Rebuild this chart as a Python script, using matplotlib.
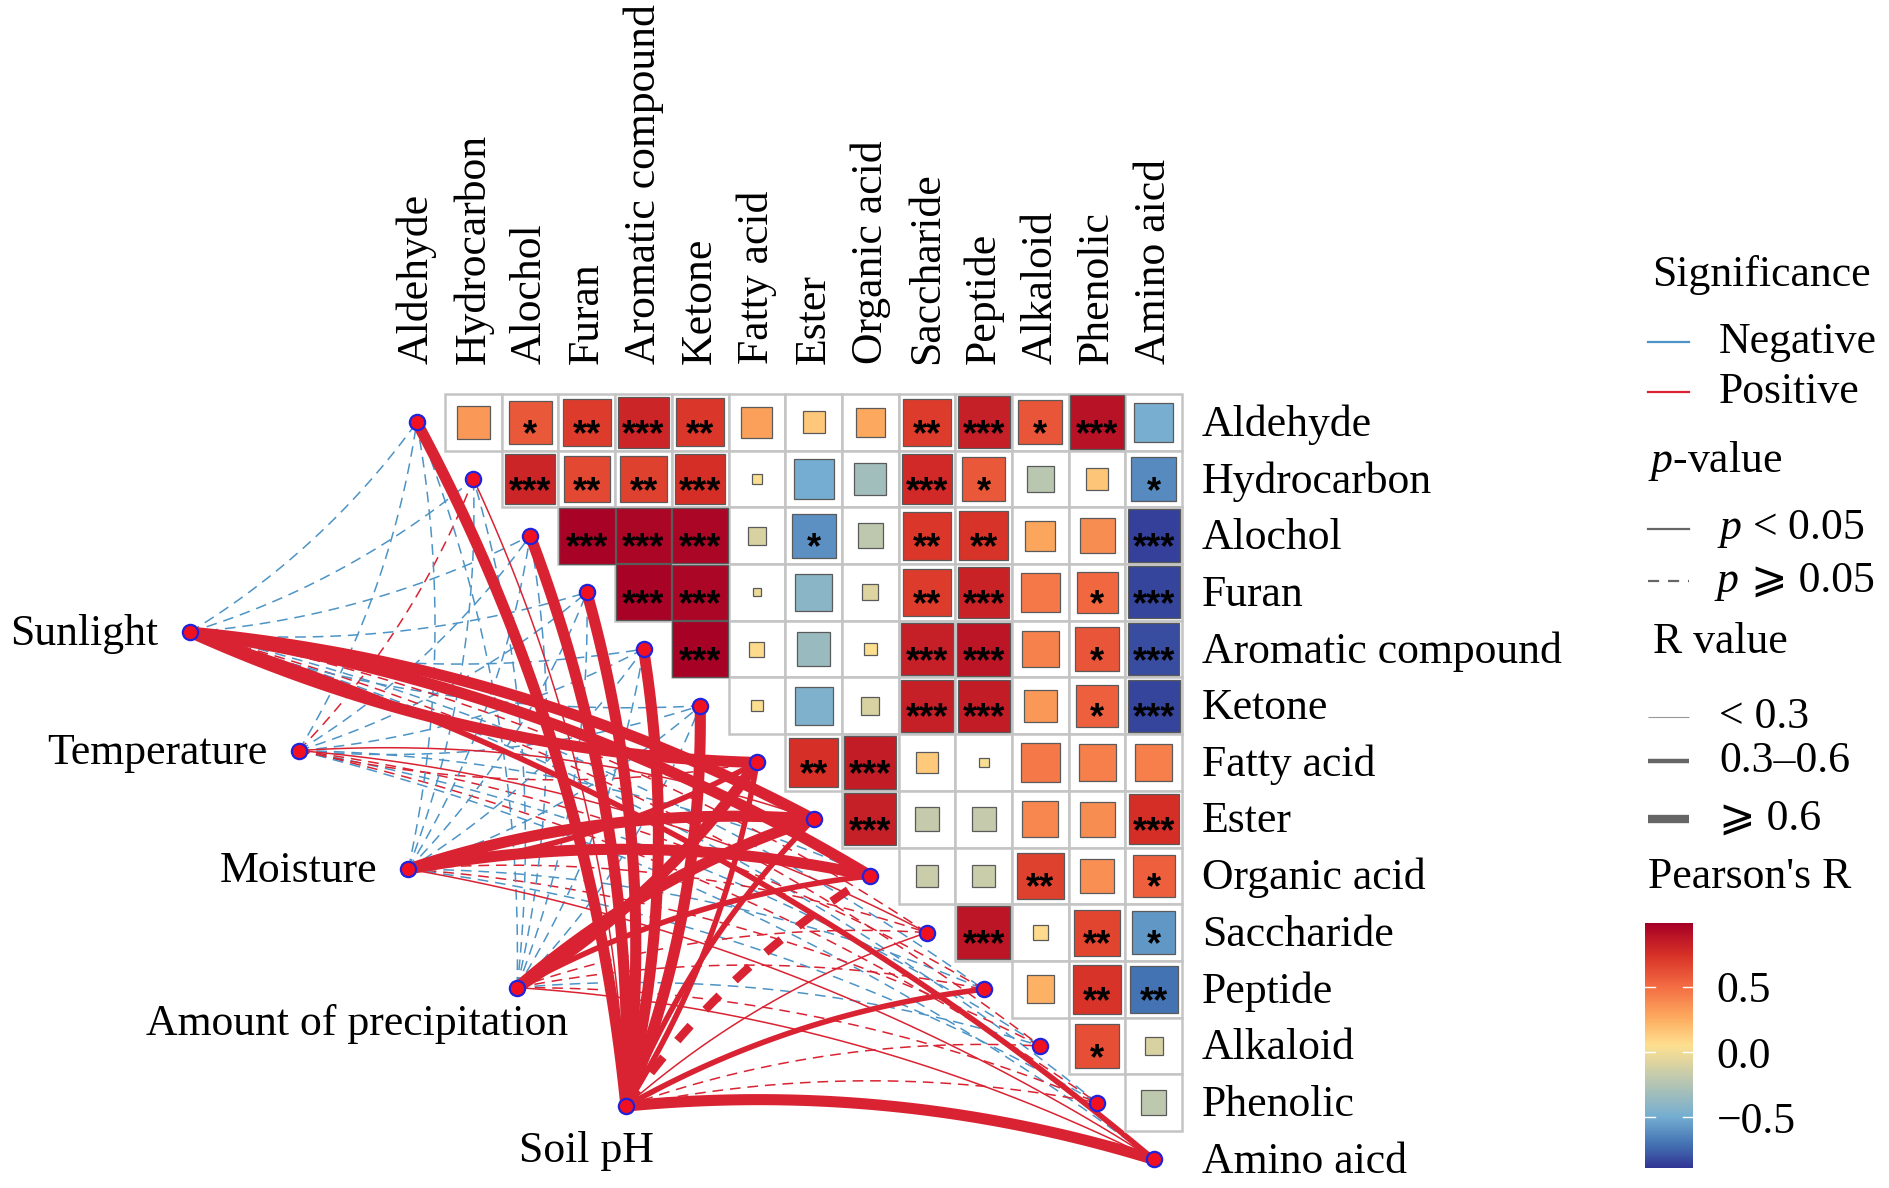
import numpy as np
import matplotlib
matplotlib.use('Agg')
import matplotlib.pyplot as plt
from matplotlib.colors import LinearSegmentedColormap, Normalize
from matplotlib.patches import Rectangle
from matplotlib.cm import ScalarMappable

plt.rcParams['font.family'] = ['Liberation Serif', 'DejaVu Sans']
plt.rcParams['mathtext.fontset'] = 'custom'
plt.rcParams['mathtext.it'] = 'Liberation Serif:italic'
plt.rcParams['mathtext.rm'] = 'Liberation Serif'

# ---- data ----
items = ['Aldehyde', 'Hydrocarbon', 'Alochol', 'Furan', 'Aromatic compound',
         'Ketone', 'Fatty acid', 'Ester', 'Organic acid', 'Saccharide',
         'Peptide', 'Alkaloid', 'Phenolic', 'Amino aicd']
env = ['Sunlight', 'Temperature', 'Moisture', 'Amount of precipitation', 'Soil pH']

# upper triangle of Pearson's R (row i, columns i+1 .. 13)
corr_r = [
    [0.33, 0.58, 0.70, 0.80, 0.72, 0.30, 0.15, 0.27, 0.70, 0.83, 0.60, 0.90, -0.48],
    [0.80, 0.65, 0.68, 0.76, 0.03, -0.50, -0.32, 0.78, 0.58, -0.22, 0.16, -0.62],
    [0.97, 0.96, 0.96, -0.10, -0.60, -0.20, 0.72, 0.74, 0.28, 0.38, -0.86],
    [0.97, 0.96, -0.02, -0.42, -0.08, 0.70, 0.82, 0.46, 0.52, -0.84],
    [0.98, 0.07, -0.35, 0.05, 0.83, 0.88, 0.42, 0.60, -0.82],
    [0.04, -0.45, -0.10, 0.83, 0.85, 0.33, 0.55, -0.84],
    [0.75, 0.85, 0.14, 0.03, 0.46, 0.43, 0.43],
    [0.83, -0.18, -0.18, 0.40, 0.38, 0.76],
    [-0.16, -0.16, 0.68, 0.37, 0.55],
    [0.88, 0.07, 0.66, -0.58],
    [0.24, 0.74, -0.70],
    [0.62, -0.10],
    [-0.20],
]
corr_sig = [
    ['', '*', '**', '***', '**', '', '', '', '**', '***', '*', '***', ''],
    ['***', '**', '**', '***', '', '', '', '***', '*', '', '', '*'],
    ['***', '***', '***', '', '*', '', '**', '**', '', '', '***'],
    ['***', '***', '', '', '', '**', '***', '', '*', '***'],
    ['***', '', '', '', '***', '***', '', '*', '***'],
    ['', '', '', '***', '***', '', '*', '***'],
    ['**', '***', '', '', '', '', ''],
    ['***', '', '', '', '', '***'],
    ['', '', '**', '', '*'],
    ['***', '', '**', '*'],
    ['', '**', '**'],
    ['*', ''],
    [''],
]

# environment -> compound links (R and p), in item order
sunlight_r = [-0.18, -0.15, -0.20, -0.17, -0.16, -0.19, 0.72, 0.68, 0.70, 0.22, -0.12, 0.18, -0.10, 0.52]
sunlight_p = [0.30, 0.40, 0.25, 0.30, 0.35, 0.28, 0.001, 0.001, 0.001, 0.20, 0.50, 0.30, 0.60, 0.01]
temperature_r = [-0.12, 0.14, -0.10, -0.15, -0.12, -0.16, 0.15, 0.25, -0.10, 0.22, 0.12, -0.08, 0.10, -0.12]
temperature_p = [0.50, 0.40, 0.60, 0.40, 0.50, 0.35, 0.40, 0.04, 0.60, 0.045, 0.50, 0.70, 0.60, 0.50]
moisture_r = [-0.20, -0.18, -0.15, -0.20, -0.18, -0.20, 0.50, 0.66, 0.70, 0.15, -0.10, 0.12, -0.14, 0.25]
moisture_p = [0.25, 0.30, 0.40, 0.25, 0.30, 0.25, 0.01, 0.001, 0.001, 0.40, 0.60, 0.50, 0.45, 0.04]
precip_r = [-0.16, -0.20, -0.18, -0.15, -0.17, -0.20, 0.65, 0.62, 0.55, 0.16, 0.12, -0.12, 0.14, 0.24]
precip_p = [0.35, 0.30, 0.30, 0.40, 0.35, 0.30, 0.001, 0.001, 0.005, 0.35, 0.50, 0.50, 0.40, 0.045]
soilph_r = [0.75, 0.25, 0.78, 0.72, 0.70, 0.68, 0.50, 0.48, 0.62, 0.22, 0.50, 0.15, 0.12, 0.75]
soilph_p = [0.001, 0.04, 0.001, 0.001, 0.001, 0.001, 0.01, 0.01, 0.08, 0.03, 0.01, 0.30, 0.40, 0.001]

link_r = [sunlight_r, temperature_r, moisture_r, precip_r, soilph_r]
link_p = [sunlight_p, temperature_p, moisture_p, precip_p, soilph_p]

# ---- layout ----
W, H = 1889, 1188
CELL = 56.7
X0, Y0 = 416.7, 422.3
FS = 31.5
env_x = [-4.00, -2.08, -0.15, 1.77, 3.69]
env_y = [3.70, 5.79, 7.88, 9.97, 12.06]
RED = '#D92332'
BLUE = '#4D94C6'

colors = ['#313695', '#4575B4', '#74ADD1', '#FEE090', '#FDAE61', '#F46D43', '#D73027', '#A50026']
stops = [-0.89, -0.70, -0.50, 0.05, 0.25, 0.50, 0.75, 0.99]
vmin, vmax = stops[0], stops[-1]
cmap = LinearSegmentedColormap.from_list(
    'rdylbu_custom', [((s - vmin) / (vmax - vmin), c) for s, c in zip(stops, colors)])
norm = Normalize(vmin, vmax)

fig = plt.figure(figsize=(W / 100, H / 100), dpi=100)
ax = fig.add_axes([0, 0, 1, 1])
ax.set_xlim(-X0 / CELL, (W - X0) / CELL)
ax.set_ylim((H - Y0) / CELL, -Y0 / CELL)
ax.axis('off')


def bezier(p0, p2, left, rad=0.1, n=80):
    # quadratic curve; left-hand bend for lower-half items, right-hand otherwise
    dx, dy = p2[0] - p0[0], p2[1] - p0[1]
    if left:
        px, py = dy, -dx
    else:
        px, py = -dy, dx
    cx = (p0[0] + p2[0]) / 2 + rad * px
    cy = (p0[1] + p2[1]) / 2 + rad * py
    t = np.linspace(0, 1, n)
    x = (1 - t) ** 2 * p0[0] + 2 * t * (1 - t) * cx + t ** 2 * p2[0]
    y = (1 - t) ** 2 * p0[1] + 2 * t * (1 - t) * cy + t ** 2 * p2[1]
    return x, y


# links, thin first so thick ones sit on top
n = len(items)
links = []
for k in range(len(env)):
    for j in range(n):
        links.append((abs(link_r[k][j]), k, j))
links.sort()
for a, k, j in links:
    r = link_r[k][j]
    p = link_p[k][j]
    if a < 0.3:
        lw = 1.1
    elif a < 0.6:
        lw = 4.0
    else:
        lw = 8.0
    col = RED if r > 0 else BLUE
    x, y = bezier((env_x[k], env_y[k]), (j, j), left=(j >= n // 2))
    if p < 0.05:
        ax.plot(x, y, color=col, lw=lw, solid_capstyle='butt', zorder=2)
    else:
        dash = (7, 4.5) if lw < 2 else (2.4, 2.6)
        ax.plot(x, y, color=col, lw=lw if lw < 2 else 6.0, dashes=dash,
                dash_capstyle='butt', zorder=2)

# heatmap cells
for i in range(n - 1):
    for jj, r in enumerate(corr_r[i]):
        j = i + 1 + jj
        ax.add_patch(Rectangle((j - 0.5, i - 0.5), 1, 1, facecolor='white',
                               edgecolor='#C4C4C4', lw=1.8, zorder=3))
for i in range(n - 1):
    for jj, r in enumerate(corr_r[i]):
        j = i + 1 + jj
        s = np.sqrt(abs(r))
        ax.add_patch(Rectangle((j - s / 2, i - s / 2), s, s, facecolor=cmap(norm(r)),
                               edgecolor='#5A5A5A', lw=0.9, zorder=4))
        if corr_sig[i][jj]:
            ax.text(j, i + 0.40, corr_sig[i][jj], ha='center', va='baseline',
                    fontsize=26, family='Liberation Sans', weight='bold', zorder=5)

# nodes
ax.plot(range(n), range(n), 'o', ms=11, mfc='#F01020', mec='#2222DD', mew=1.6, zorder=6)
ax.plot(env_x, env_y, 'o', ms=11, mfc='#F01020', mec='#2222DD', mew=1.6, zorder=6)

# labels
for j, name in enumerate(items):
    ax.text(j, -1.03, name, rotation=90, ha='center', va='bottom', fontsize=FS)
    ax.text(13.85, j + 0.04, name, ha='left', va='center', fontsize=FS)
for k in range(3):
    ax.text(env_x[k] - 0.55, env_y[k] + 0.04, env[k], ha='right', va='center', fontsize=FS)
ax.text(env_x[3] + 0.9, env_y[3] + 0.64, env[3], ha='right', va='center', fontsize=FS)
ax.text(env_x[4] - 0.7, env_y[4] + 0.8, env[4], ha='center', va='center', fontsize=FS)

# ---- legend (pixel layout) ----
lax = fig.add_axes([0, 0, 1, 1], zorder=10)
lax.set_xlim(0, W)
lax.set_ylim(H, 0)
lax.axis('off')
lax.patch.set_alpha(0)

lax.text(1652, 275, 'Significance', ha='left', va='center', fontsize=FS)
lax.plot([1648, 1689], [342, 342], color=BLUE, lw=1.6)
lax.text(1719, 342, 'Negative', ha='left', va='center', fontsize=FS)
lax.plot([1648, 1689], [392, 392], color=RED, lw=1.6)
lax.text(1719, 392, 'Positive', ha='left', va='center', fontsize=FS)

lax.text(1648, 461, '$p$-value', ha='left', va='center', fontsize=FS)
lax.plot([1648, 1689], [529, 529], color='#666666', lw=1.6)
lax.text(1717, 529, '$p$ < 0.05', ha='left', va='center', fontsize=FS)
lax.plot([1648, 1689], [581, 581], color='#666666', lw=1.6, dashes=(5, 4))
lax.text(1717, 581, 'p', style='italic', ha='left', va='center', fontsize=FS)
lax.text(1751, 581, '\u2A7E 0.05', ha='left', va='center', fontsize=FS)

lax.text(1653, 642, 'R value', ha='left', va='center', fontsize=FS)
lax.plot([1648, 1689], [717, 717], color='#999999', lw=0.8, solid_capstyle='butt')
lax.text(1719, 717, '< 0.3', ha='left', va='center', fontsize=FS)
lax.plot([1648, 1689], [761, 761], color='#666666', lw=3.2, solid_capstyle='butt')
lax.text(1719, 761, '0.3\u20130.6', ha='left', va='center', fontsize=FS)
lax.plot([1648, 1689], [819, 819], color='#666666', lw=6.0, solid_capstyle='butt')
lax.text(1719, 819, '\u2A7E 0.6', ha='left', va='center', fontsize=FS)

lax.text(1648, 877, "Pearson's R", ha='left', va='center', fontsize=FS)

cax = fig.add_axes([1645 / W, 1 - 1168 / H, 48 / W, 245 / H])
cb = fig.colorbar(ScalarMappable(norm=norm, cmap=cmap), cax=cax)
cb.outline.set_visible(False)
cb.set_ticks([-0.5, 0.0, 0.5])
cb.set_ticklabels(['\u22120.5', '0.0', '0.5'])
cax.tick_params(length=0, labelsize=FS, pad=17)
for t in [-0.5, 0.0, 0.5]:
    cax.plot([0, 0.2], [t, t], color='white', lw=1)
    cax.plot([0.8, 1], [t, t], color='white', lw=1)
cax.set_xlim(0, 1)

fig.savefig('out.png', dpi=100, facecolor='white')
